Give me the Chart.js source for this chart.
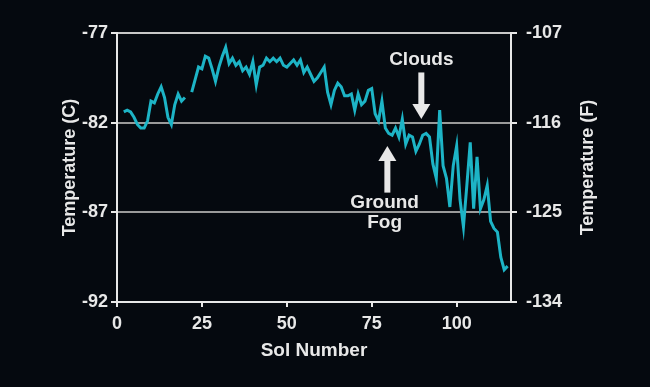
<!DOCTYPE html>
<html>
<head>
<meta charset="utf-8">
<script src="https://cdn.jsdelivr.net/npm/chart.js@4.4.1/dist/chart.umd.min.js"></script>
<style>
  html, body { margin: 0; padding: 0; background: #05090f; }
  #wrap { width: 650px; height: 387px; }
</style>
</head>
<body>
<div id="wrap"><canvas id="tempChart" width="650" height="387"></canvas></div>
<script>
// Sol number and daily temperature (C)
const sols = [2, 3, 4, 5, 6, 7, 8, 9, 10, 11, 12, 13, 14, 15, 16, 17, 18, 19, 20, 21,
  22, 23, 24, 25, 26, 27, 28, 29, 30, 31, 32, 33, 34, 35, 36, 37, 38, 39, 40,
  41, 42, 43, 44, 45, 46, 47, 48, 49, 50, 51, 52, 53, 54, 55, 56, 57, 58, 59, 60,
  61, 62, 63, 64, 65, 66, 67, 68, 69, 70, 71, 72, 73, 74, 75, 76, 77, 78, 79, 80,
  81, 82, 83, 84, 85, 86, 87, 88, 89, 90, 91, 92, 93, 94, 95, 96, 97, 98, 99, 100,
  101, 102, 103, 104, 105, 106, 107, 108, 109, 110, 111, 112, 113, 114, 115];
const tempC = [-81.4, -81.3, -81.4, -81.7, -82.1, -82.3, -82.3, -81.9, -80.8, -80.9,
  -80.4, -80.0, -80.6, -81.7, -82.1, -81.0, -80.4, -80.8, -80.6, null,
  -80.3, -79.6, -78.9, -79.0, -78.3, -78.4, -79.0, -79.7, -78.9, -78.3,
  -77.8, -78.7, -78.4, -78.8, -78.6, -79.1, -78.9, -79.3, -78.6,
  -79.9, -78.9, -78.8, -78.4, -78.6, -78.4, -78.6, -78.4, -78.8, -78.9,
  -78.7, -78.5, -78.8, -78.5, -79.2, -78.9, -79.3, -79.7, -79.5, -79.2,
  -78.9, -80.3, -81.0, -80.2, -79.8, -80.0, -80.5, -80.5, -80.4, -81.3,
  -80.4, -81.0, -80.8, -80.2, -80.1, -81.5, -81.9, -80.8, -82.3, -82.6,
  -82.7, -82.3, -82.8, -81.8, -83.2, -82.7, -82.8, -83.6, -83.2, -82.7,
  -82.6, -82.8, -84.3, -85.1, -81.3, -84.4, -85.1, -86.7, -84.4, -83.3,
  -86.3, -87.8, -85.5, -83.1, -86.8, -83.9, -86.8, -86.3, -85.5, -87.5,
  -87.9, -88.1, -89.5, -90.2, -90.0];

// axis ticks
const ticksC = [-92, -87, -82, -77];
const ticksF = [-134, -125, -116, -107];
const ticksSol = [0, 25, 50, 75, 100];

// labels with arrows (sol / temp C)
const notes = [
  { lines: ['Clouds'], sol: 89.6, temp: -78.5, arrowFrom: -79.2, arrowTo: -81.8 },
  { lines: ['Ground', 'Fog'], sol: 78.8, temp: -86.45, arrowSol: 79.6, arrowFrom: -85.9, arrowTo: -83.3 }
];

const txt = '#e8e8e8';
const font = 'Liberation Sans, Arial, sans-serif';

// draw the arrows, the notes and the right title (reads bottom to top like the left one)
const notesPlugin = {
  id: 'notes',
  afterDatasetsDraw(chart) {
    const c = chart.ctx;
    const x = chart.scales.x, y = chart.scales.yC;
    c.save();
    c.fillStyle = txt;
    c.strokeStyle = txt;
    c.font = 'bold 19px ' + font;
    c.textAlign = 'center';
    c.textBaseline = 'middle';
    notes.forEach(n => {
      const tx = x.getPixelForValue(n.sol);
      n.lines.forEach((l, i) => c.fillText(l, tx, y.getPixelForValue(n.temp) + i * 20));
      const ax = x.getPixelForValue(n.arrowSol || n.sol);
      const y0 = y.getPixelForValue(n.arrowFrom), y1 = y.getPixelForValue(n.arrowTo);
      const dir = y1 > y0 ? 1 : -1;
      const headH = 15;
      c.lineWidth = 6;
      c.beginPath();
      c.moveTo(ax, y0);
      c.lineTo(ax, y1 - dir * headH);
      c.stroke();
      c.beginPath();
      c.moveTo(ax - 9, y1 - dir * headH);
      c.lineTo(ax + 9, y1 - dir * headH);
      c.lineTo(ax, y1);
      c.closePath();
      c.fill();
    });

    const area = chart.chartArea;
    c.font = 'bold 18px ' + font;
    c.translate(588, (area.top + area.bottom) / 2);
    c.rotate(-Math.PI / 2);
    c.fillText('Temperature (F)', 0, 0);
    c.restore();
  }
};

const ctx = document.getElementById('tempChart').getContext('2d');
new Chart(ctx, {
  type: 'line',
  data: {
    datasets: [{
      data: sols.map((s, i) => ({ x: s, y: tempC[i] })),
      borderColor: '#1db4c6',
      borderWidth: 3,
      pointRadius: 0,
      tension: 0,
      spanGaps: false,
      yAxisID: 'yC'
    }]
  },
  options: {
    responsive: false,
    animation: false,
    layout: { padding: { top: 33, left: 0, right: 0, bottom: 0 } },
    plugins: { legend: { display: false }, tooltip: { enabled: false } },
    scales: {
      x: {
        type: 'linear',
        min: 0, max: 116,
        afterFit: s => { s.height = 85; },
        afterBuildTicks: s => { s.ticks = ticksSol.map(v => ({ value: v })); },
        ticks: { color: txt, font: { family: font, size: 18, weight: 'bold' }, padding: 6 },
        grid: { drawOnChartArea: false, drawTicks: true, tickLength: 5, tickColor: txt, lineWidth: 2 },
        border: { color: txt, width: 2 },
        title: {
          display: true, text: 'Sol Number', color: txt,
          font: { family: font, size: 19, weight: 'bold' },
          padding: { top: 0, bottom: 25 }
        }
      },
      yC: {
        position: 'left',
        min: -92, max: -77,
        afterFit: s => { s.width = 117; },
        afterBuildTicks: s => { s.ticks = ticksC.map(v => ({ value: v })); },
        ticks: { color: txt, font: { family: font, size: 18, weight: 'bold' }, padding: 3 },
        grid: {
          color: c => c.tick && c.tick.value === -77 ? '#c8c8c8' : '#9a9a9a',
          lineWidth: 2, tickLength: 6, tickColor: txt
        },
        border: { color: txt, width: 2 },
        title: {
          display: true, text: 'Temperature (C)', color: txt,
          font: { family: font, size: 18, weight: 'bold' },
          padding: { top: 59, bottom: 0 }
        }
      },
      yF: {
        position: 'right',
        min: -134, max: -107,
        afterFit: s => { s.width = 139; },
        afterBuildTicks: s => { s.ticks = ticksF.map(v => ({ value: v })); },
        ticks: { color: txt, font: { family: font, size: 18, weight: 'bold' }, padding: 9 },
        grid: { drawOnChartArea: false, lineWidth: 2, tickLength: 6, tickColor: txt },
        border: { color: txt, width: 2 }
      }
    }
  },
  plugins: [notesPlugin]
});
</script>
</body>
</html>
